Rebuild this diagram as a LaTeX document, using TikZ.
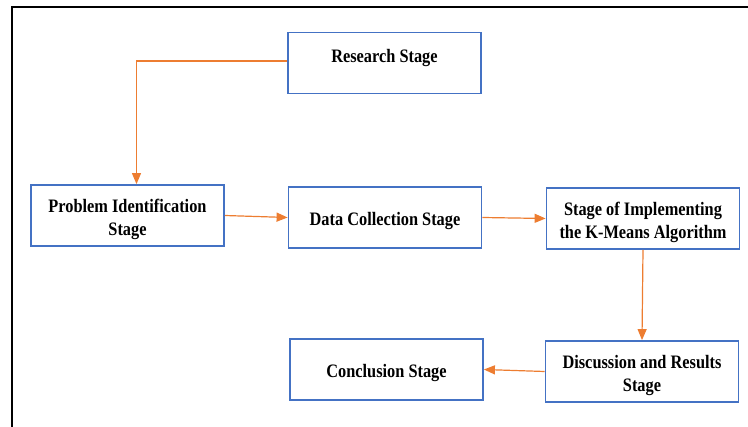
\documentclass[tikz,border=0pt]{standalone}
\usepackage{fontspec}
\newfontfamily\stagefont{Liberation Serif}[FakeStretch=0.86]
\usetikzlibrary{arrows.meta}

\definecolor{boxblue}{HTML}{4472C4}
\definecolor{flowedge}{HTML}{ED7D31}

\tikzset{
  stagebox/.style={draw=boxblue, line width=1.8pt, minimum width=193pt, minimum height=61pt,
    align=center, text height=20pt, text depth=3pt,
    font=\stagefont\bfseries\fontsize{19}{23}\selectfont},
  twoline/.style={text height=44pt},
  flow/.style={draw=flowedge, line width=1.2pt, -{Triangle[length=11pt, width=9pt]}}
}

\begin{document}
\begin{tikzpicture}[x=1pt, y=-1pt]
        \useasboundingbox (0,0) rectangle (748,427);
        % Frame
            \draw[line width=2.5pt] (12,427) -- (12,7) -- (748,7);

        % Stages
            \node[stagebox, text height=12pt, text depth=13pt] (research) at (384.5, 63) {Research Stage};
            \node[stagebox, twoline] (problem) at (127.5, 215.5) {Problem Identification\\Stage};
            \node[stagebox] (data) at (385, 217.5) {Data Collection Stage};
            \node[stagebox, twoline] (implement) at (643, 218.5) {Stage of Implementing\\the K-Means Algorithm};
            \node[stagebox, twoline] (discussion) at (642, 371.5) {Discussion and Results\\Stage};
            \node[stagebox] (conclusion) at (386.5, 369.5) {Conclusion Stage};

        % Flow between stages
            \draw[flow] ([yshift=2pt]research.west) -| ([xshift=9pt]problem.north);
            \draw[flow] (problem.east) -- (data.west);
            \draw[flow] (data.east) -- (implement.west);
            \draw[flow] (implement.south) -- (discussion.north);
            \draw[flow] (discussion.west) -- (conclusion.east);
\end{tikzpicture}
\end{document}
